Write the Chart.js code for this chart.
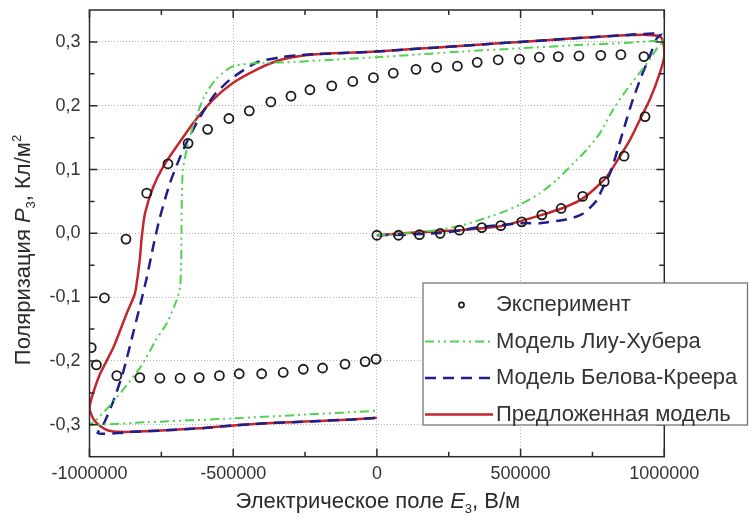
<!DOCTYPE html>
<html>
<head>
<meta charset="utf-8">
<script src="https://cdn.jsdelivr.net/npm/chart.js@4/dist/chart.umd.min.js"></script>
<style>
  html, body { margin: 0; padding: 0; background: #fff; }
  canvas { display: block; }
</style>
</head>
<body>
<canvas id="c" width="749" height="525"></canvas>
<script>
// Hysteresis loop P3(E3): measured points and three model curves
// (initial branch 0 -> +Emax, descending branch +Emax -> -Emax, ascending branch -Emax -> 0).

const xTicks = [-1000000, -500000, 0, 500000, 1000000];
const xMinorTicks = [-750000, -250000, 250000, 750000];
const yTicks = [-0.3, -0.2, -0.1, 0.0, 0.1, 0.2, 0.3];
const yMinorTicks = [-0.25, -0.15, -0.05, 0.05, 0.15, 0.25];

const seriesLabels = ['Эксперимент', 'Модель Лиу-Хубера', 'Модель Белова-Креера', 'Предложенная модель'];

// Experiment
const expE = [0, 75000, 148000, 220000, 287000, 365000, 431000, 504000, 574000, 641000, 716000, 791000, 860000, 933000,
  929000, 849000, 779000, 703000, 631000, 565000, 496000, 422000, 349000, 280000, 208000, 136000, 57000, -12000,
  -84000, -157000, -233000, -299000, -369000, -444000, -515000, -589000, -657000, -727000, -801000, -873000, -948000, -994000,
  -976000, -905000, -825000, -755000, -685000, -618000, -548000, -479000, -401000, -326000, -256000, -189000, -111000, -41000, -3000];
const expP = [-0.003, -0.003, -0.002, 0.0, 0.005, 0.009, 0.012, 0.018, 0.029, 0.039, 0.058, 0.081, 0.121, 0.183,
  0.277, 0.280, 0.279, 0.278, 0.277, 0.276, 0.273, 0.272, 0.268, 0.262, 0.260, 0.257, 0.251, 0.244,
  0.238, 0.231, 0.225, 0.215, 0.206, 0.192, 0.180, 0.163, 0.141, 0.109, 0.063, -0.009, -0.101, -0.179,
  -0.206, -0.223, -0.226, -0.227, -0.227, -0.226, -0.223, -0.220, -0.220, -0.218, -0.213, -0.211, -0.205, -0.201, -0.197];

// Liu-Huber model
const liuE = [0, 100000, 208000, 300000, 357000, 430000, 498000, 568000, 626000, 684000, 730000, 776000, 823000, 869000,
  915000, 950000, 975000, 1000000, 985000, 846000, 700000, 498000, 300000, 0, -198000, -314000, -407000, -500000,
  -558000, -600000, -635000, -660000, -675000, -679000, -680000, -681000, -685000, -697000, -730000, -770000, -820000,
  -910000, -980000, -1000000, -800000, -500000, -250000, 0];
const liuP = [-0.003, 0.0, 0.005, 0.013, 0.021, 0.032, 0.045, 0.063, 0.084, 0.110, 0.131, 0.157, 0.195, 0.225,
  0.252, 0.273, 0.290, 0.302, 0.302, 0.298, 0.295, 0.290, 0.285, 0.276, 0.271, 0.268, 0.267, 0.262,
  0.243, 0.215, 0.175, 0.135, 0.100, 0.050, 0.0, -0.050, -0.085, -0.105, -0.140, -0.168, -0.208,
  -0.260, -0.294, -0.300, -0.296, -0.290, -0.284, -0.278];

// Belov-Kreher model
const belE = [0, 100000, 200000, 300000, 357000, 430000, 510000, 568000, 649000, 693000, 718000, 741000, 765000, 788000,
  811000, 830000, 850000, 870000, 887000, 921000, 950000, 973000, 990000, 960000, 900000, 846000, 700000, 600000,
  498000, 400000, 300000, 200000, 100000, 0, -100000, -200000, -280000, -337000, -418000, -511000, -569000, -627000,
  -674000, -720000, -755000, -778000, -801000, -824000, -853000, -882000, -917000, -952000, -972000, -950000, -900000,
  -850000, -750000, -600000, -500000, -400000, -300000, -200000, -100000, 0];
const belP = [-0.003, -0.002, 0.0, 0.005, 0.010, 0.013, 0.016, 0.016, 0.021, 0.026, 0.031, 0.040, 0.052, 0.073,
  0.094, 0.120, 0.150, 0.180, 0.205, 0.247, 0.278, 0.305, 0.313, 0.313, 0.312, 0.310, 0.306, 0.303,
  0.300, 0.297, 0.294, 0.291, 0.288, 0.285, 0.283, 0.281, 0.279, 0.276, 0.268, 0.241, 0.215, 0.173,
  0.131, 0.079, 0.025, -0.020, -0.070, -0.113, -0.165, -0.216, -0.263, -0.300, -0.313, -0.314, -0.313,
  -0.311, -0.309, -0.305, -0.301, -0.298, -0.296, -0.294, -0.292, -0.289];

// Proposed model
const propE = [0, 92000, 200000, 290000, 429000, 498000, 574000, 643000, 707000, 753000, 800000, 846000, 881000, 915000,
  950000, 985000, 1000000, 997000, 985000, 940000, 846000, 700000, 600000, 498000, 400000, 300000, 200000, 100000,
  0, -100000, -198000, -267000, -349000, -430000, -500000, -569000, -639000, -697000, -743000, -778000, -807000,
  -818000, -826000, -842000, -871000, -917000, -963000, -992000, -1000000, -985000, -963000, -935000, -905000,
  -848000, -750000, -600000, -500000, -400000, -300000, -200000, -100000, 0];
const propP = [-0.003, 0.0, 0.003, 0.005, 0.011, 0.019, 0.029, 0.039, 0.052, 0.068, 0.089, 0.121, 0.147, 0.178,
  0.210, 0.252, 0.278, 0.298, 0.309, 0.311, 0.310, 0.306, 0.303, 0.300, 0.297, 0.294, 0.291, 0.288,
  0.285, 0.283, 0.281, 0.278, 0.270, 0.254, 0.236, 0.210, 0.173, 0.136, 0.105, 0.073, 0.031,
  -0.005, -0.045, -0.094, -0.126, -0.179, -0.220, -0.257, -0.275, -0.292, -0.302, -0.309, -0.311,
  -0.311, -0.309, -0.305, -0.301, -0.298, -0.296, -0.294, -0.292, -0.289];

const pts = (xs, ys) => xs.map((x, i) => ({ x: x, y: ys[i] }));

const FONT = '"Liberation Sans", Arial, sans-serif';
const TEXT = '#333333';

const datasets = [
  {
    label: seriesLabels[0], data: pts(expE, expP), showLine: false,
    pointStyle: 'circle', pointRadius: 4.5, pointBorderWidth: 1.8,
    pointBorderColor: '#1c1c1c', pointBackgroundColor: 'rgba(0,0,0,0)'
  },
  {
    label: seriesLabels[1], data: pts(liuE, liuP), showLine: true, pointRadius: 0,
    borderColor: '#4fd24f', borderWidth: 2, borderDash: [9, 4, 2, 4, 2, 4], tension: 0.2
  },
  {
    label: seriesLabels[2], data: pts(belE, belP), showLine: true, pointRadius: 0,
    borderColor: '#1e1e8c', borderWidth: 2.5, borderDash: [11, 7], tension: 0.2
  },
  {
    label: seriesLabels[3], data: pts(propE, propP), showLine: true, pointRadius: 0,
    borderColor: '#c3262d', borderWidth: 2.5, tension: 0.2
  }
];

// Box frame with inward major/minor tick marks on all four sides
const framePlugin = {
  id: 'frame',
  afterDatasetsDraw(chart) {
    const { ctx, chartArea: a, scales: { x, y } } = chart;
    ctx.save();
    ctx.setLineDash([]);
    ctx.strokeStyle = '#2a2a2a';
    ctx.lineWidth = 1.5;
    ctx.strokeRect(a.left, a.top, a.right - a.left, a.bottom - a.top);
    ctx.beginPath();
    const xMark = (v, len) => {
      const px = x.getPixelForValue(v);
      ctx.moveTo(px, a.bottom); ctx.lineTo(px, a.bottom - len);
      ctx.moveTo(px, a.top); ctx.lineTo(px, a.top + len);
    };
    const yMark = (v, len) => {
      const py = y.getPixelForValue(v);
      ctx.moveTo(a.left, py); ctx.lineTo(a.left + len, py);
      ctx.moveTo(a.right, py); ctx.lineTo(a.right - len, py);
    };
    xTicks.forEach(v => xMark(v, 8));
    xMinorTicks.forEach(v => xMark(v, 5));
    yTicks.forEach(v => yMark(v, 8));
    yMinorTicks.forEach(v => yMark(v, 5));
    ctx.stroke();
    ctx.restore();
  }
};

// Axis titles with italic symbol, subscript and superscript
function drawRich(ctx, parts, cx, baseY) {
  let total = 0;
  parts.forEach(p => { ctx.font = p.font; p.w = ctx.measureText(p.text).width; total += p.w; });
  let xx = cx - total / 2;
  parts.forEach(p => { ctx.font = p.font; ctx.fillText(p.text, xx, baseY + (p.dy || 0)); xx += p.w; });
}
const titlePlugin = {
  id: 'titles',
  afterDraw(chart) {
    const { ctx, chartArea: a } = chart;
    const norm = '22px ' + FONT, ital = 'italic 22px ' + FONT, small = '13px ' + FONT;
    ctx.save();
    ctx.fillStyle = '#2a2a2a';
    ctx.textBaseline = 'alphabetic';
    ctx.textAlign = 'left';
    drawRich(ctx, [
      { text: 'Электрическое поле ', font: norm },
      { text: 'E', font: ital },
      { text: '3', font: small, dy: 5 },
      { text: ', В/м', font: norm }
    ], (a.left + a.right) / 2 + 1, 508);
    ctx.translate(30, 250);
    ctx.rotate(-Math.PI / 2);
    drawRich(ctx, [
      { text: 'Поляризация ', font: norm },
      { text: 'P', font: ital },
      { text: '3', font: small, dy: 5 },
      { text: ', Кл/м', font: norm },
      { text: '2', font: small, dy: -9 }
    ], 0, 0);
    ctx.restore();
  }
};

// Boxed legend inside the lower-right part of the plot
const legendPlugin = {
  id: 'boxLegend',
  afterDraw(chart) {
    const { ctx } = chart;
    const box = { l: 423, t: 283, r: 747.5, b: 425 };
    const rows = [305, 341.5, 378, 414.5];
    ctx.save();
    ctx.fillStyle = '#ffffff';
    ctx.fillRect(box.l, box.t, box.r - box.l, box.b - box.t);
    ctx.strokeStyle = '#6a6a6a';
    ctx.lineWidth = 1.2;
    ctx.setLineDash([]);
    ctx.strokeRect(box.l, box.t, box.r - box.l, box.b - box.t);
    chart.data.datasets.forEach((ds, i) => {
      const ry = rows[i];
      if (ds.showLine === false) {
        ctx.setLineDash([]);
        ctx.strokeStyle = ds.pointBorderColor;
        ctx.lineWidth = 1.6;
        ctx.beginPath();
        ctx.arc(461.5, ry, 2.6, 0, Math.PI * 2);
        ctx.stroke();
      } else {
        ctx.strokeStyle = ds.borderColor;
        ctx.lineWidth = ds.borderWidth;
        ctx.setLineDash(ds.borderDash || []);
        ctx.beginPath();
        ctx.moveTo(425, ry);
        ctx.lineTo(493, ry);
        ctx.stroke();
      }
      ctx.setLineDash([]);
      ctx.fillStyle = TEXT;
      ctx.font = '22px ' + FONT;
      ctx.textBaseline = 'middle';
      ctx.textAlign = 'left';
      ctx.fillText(ds.label, 496, ry);
    });
    ctx.restore();
  }
};

new Chart(document.getElementById('c'), {
  type: 'scatter',
  data: { datasets: datasets },
  options: {
    responsive: false,
    animation: false,
    devicePixelRatio: 1,
    layout: { padding: { top: 10, right: 84.7, left: 0, bottom: 0 } },
    plugins: { legend: { display: false }, tooltip: { enabled: false } },
    scales: {
      x: {
        type: 'linear', min: -1000000, max: 1000000,
        afterBuildTicks: s => { s.ticks = xTicks.map(v => ({ value: v })); },
        afterFit: s => { s.height = 68.3; s.paddingLeft = 0; s.paddingRight = 0; },
        grid: { color: '#b5b5b5', lineWidth: 1, drawTicks: false },
        border: { display: false, dash: [1, 2] },
        ticks: {
          autoSkip: false, maxRotation: 0, padding: 7, color: TEXT,
          font: { family: FONT, size: 18 },
          callback: v => String(v)
        }
      },
      y: {
        type: 'linear', min: -0.35, max: 0.35,
        afterBuildTicks: s => { s.ticks = yTicks.map(v => ({ value: v })); },
        afterFit: s => { s.width = 89.5; s.paddingTop = 0; s.paddingBottom = 0; },
        grid: { color: '#b5b5b5', lineWidth: 1, drawTicks: false },
        border: { display: false, dash: [1, 2] },
        ticks: {
          autoSkip: false, padding: 9, color: TEXT,
          font: { family: FONT, size: 18 },
          callback: v => v.toFixed(1).replace('.', ',')
        }
      }
    }
  },
  plugins: [framePlugin, titlePlugin, legendPlugin]
});
</script>
</body>
</html>
